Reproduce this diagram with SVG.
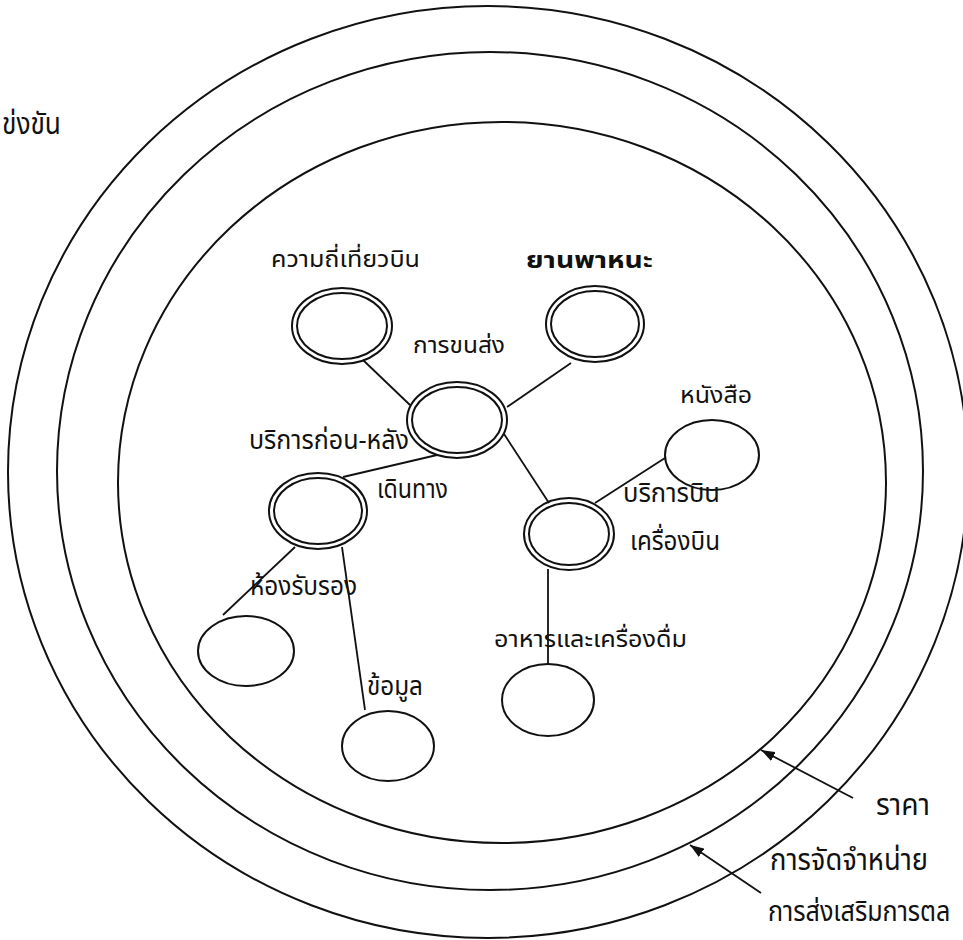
<svg xmlns="http://www.w3.org/2000/svg" width="963" height="940" viewBox="0 0 963 940">
<defs>
<style>
.ring{fill:none;stroke:#111;stroke-width:2}
.node{fill:none;stroke:#111;stroke-width:2}
.link{stroke:#111;stroke-width:1.8;fill:none}
.t{font-family:"Noto Sans Thai","Noto Serif Thai","Noto Sans","DejaVu Sans",sans-serif;fill:#111}
.s{font-size:23px}
.m{font-size:26px}
.l{font-size:31px}
</style>
<marker id="ah" viewBox="0 0 14 10" refX="14" refY="5" markerWidth="14" markerHeight="10" markerUnits="userSpaceOnUse" orient="auto">
<path d="M0,0 L14,5 L0,10 Z" fill="#111"/>
</marker>
</defs>
<rect width="963" height="940" fill="#fff"/>
<g id="rings">
<ellipse class="ring" cx="488" cy="472" rx="480" ry="466"/>
<ellipse class="ring" cx="490" cy="471" rx="433" ry="419"/>
<ellipse class="ring" cx="502" cy="482.5" rx="384" ry="360.5"/>
</g>
<g id="connectors">
<line class="link" x1="363" y1="360" x2="410" y2="405"/>
<line class="link" x1="507" y1="407" x2="571" y2="363"/>
<line class="link" x1="437" y1="455" x2="343" y2="477"/>
<line class="link" x1="504" y1="434" x2="549" y2="503"/>
<line class="link" x1="595" y1="503" x2="665" y2="458"/>
<line class="link" x1="295" y1="547" x2="223" y2="615"/>
<line class="link" x1="342" y1="547" x2="365" y2="710"/>
<line class="link" x1="548" y1="569" x2="548" y2="665"/>
<line class="link" x1="853" y1="798" x2="761" y2="750" marker-end="url(#ah)"/>
<line class="link" x1="761" y1="893" x2="690" y2="845" marker-end="url(#ah)"/>
</g>
<g id="node-frequency">
<ellipse class="node" cx="342" cy="326" rx="50" ry="38"/>
<ellipse class="node" cx="342" cy="326" rx="45" ry="33"/>
<text class="t s" x="271" y="267" textLength="149" lengthAdjust="spacingAndGlyphs">ความถี่เที่ยวบิน</text>
</g>
<g id="node-vehicle">
<ellipse class="node" cx="595" cy="324" rx="49" ry="38"/>
<ellipse class="node" cx="595" cy="324" rx="44" ry="33"/>
<text class="t s" x="526" y="268" font-weight="bold" textLength="127" lengthAdjust="spacingAndGlyphs">ยานพาหนะ</text>
</g>
<g id="node-transport">
<ellipse class="node" cx="457" cy="420" rx="50" ry="38"/>
<ellipse class="node" cx="457" cy="420" rx="45" ry="33"/>
<text class="t s" x="413" y="353" textLength="92" lengthAdjust="spacingAndGlyphs">การขนส่ง</text>
</g>
<g id="node-prepost">
<text class="t m" x="249" y="449" textLength="160" lengthAdjust="spacingAndGlyphs">บริการก่อน-หลัง</text>
</g>
<g id="node-travel">
<ellipse class="node" cx="318" cy="511" rx="49" ry="38"/>
<ellipse class="node" cx="318" cy="511" rx="44" ry="33"/>
<text class="t m" x="377" y="498" textLength="71" lengthAdjust="spacingAndGlyphs">เดินทาง</text>
</g>
<g id="node-aircraft">
<ellipse class="node" cx="569" cy="534" rx="45" ry="36"/>
<ellipse class="node" cx="569" cy="534" rx="40" ry="31"/>
<text class="t m" x="623" y="502" textLength="97" lengthAdjust="spacingAndGlyphs">บริการบิน</text>
<text class="t m" x="630" y="550" textLength="90" lengthAdjust="spacingAndGlyphs">เครื่องบิน</text>
</g>
<g id="node-books">
<ellipse class="node" cx="712" cy="455" rx="47" ry="35"/>
<text class="t s" x="680" y="403" textLength="72" lengthAdjust="spacingAndGlyphs">หนังสือ</text>
</g>
<g id="node-lounge">
<ellipse class="node" cx="246" cy="651" rx="48" ry="35"/>
<text class="t m" x="250" y="595" textLength="107" lengthAdjust="spacingAndGlyphs">ห้องรับรอง</text>
</g>
<g id="node-info">
<ellipse class="node" cx="388" cy="746" rx="46" ry="35"/>
<text class="t m" x="367" y="695" textLength="56" lengthAdjust="spacingAndGlyphs">ข้อมูล</text>
</g>
<g id="node-food">
<ellipse class="node" cx="548" cy="700" rx="46" ry="36"/>
<text class="t s" x="494" y="647" textLength="193" lengthAdjust="spacingAndGlyphs">อาหารและเครื่องดื่ม</text>
</g>
<g id="labels">
<text class="t l" x="2" y="134" textLength="59" lengthAdjust="spacingAndGlyphs">ข่งขัน</text>
<text class="t l" x="876" y="815" textLength="54" lengthAdjust="spacingAndGlyphs">ราคา</text>
<text class="t l" x="770" y="870" textLength="158" lengthAdjust="spacingAndGlyphs">การจัดจำหน่าย</text>
<text class="t" font-size="28" transform="translate(768,921) scale(0.8,1)" x="0" y="0" textLength="228" lengthAdjust="spacingAndGlyphs">การส่งเสริมการตล</text>
</g>
</svg>
